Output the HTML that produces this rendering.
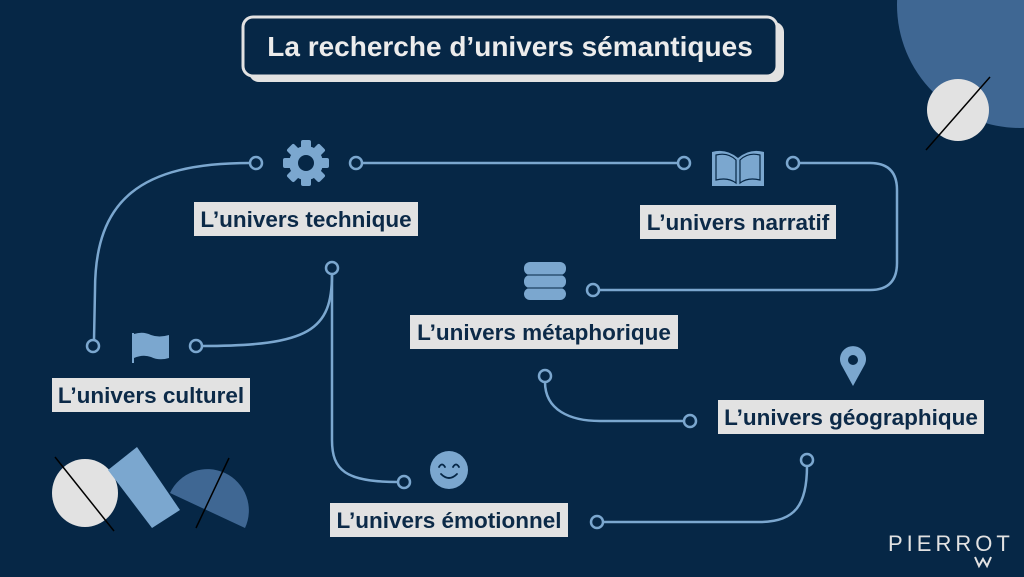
<!DOCTYPE html>
<html><head><meta charset="utf-8"><style>
html,body{margin:0;padding:0;background:#062746;}
svg{display:block}
text{font-family:"Liberation Sans",Arial,sans-serif;}
</style></head><body>
<svg width="1024" height="577" viewBox="0 0 1024 577" xmlns="http://www.w3.org/2000/svg">
<rect width="1024" height="577" fill="#062746"/>
<circle cx="1020" cy="5" r="123" fill="#3f6793"/>
<circle cx="958" cy="110" r="31" fill="#e2e2e2"/>
<line x1="990" y1="77" x2="926" y2="150" stroke="#000" stroke-width="1.5"/>
<rect x="249" y="22" width="535" height="60" rx="10" fill="#e2e2e2"/>
<rect x="243" y="17" width="534" height="59" rx="10" fill="#062746" stroke="#e2e2e2" stroke-width="3"/>
<text x="510" y="56" text-anchor="middle" fill="#ececec" font-size="28" font-weight="bold">La recherche d’univers sémantiques</text>
<g fill="none" stroke="#7ba7cf" stroke-width="2.5">
<path d="M250 163 C140 163 95 200 95 290 L94 340"/>
<line x1="362" y1="163" x2="678" y2="163"/>
<path d="M799 163 L870 163 Q897 163 897 190 L897 263 Q897 290 870 290 L599 290"/>
<path d="M332 274 C332 330 310 346 202 346"/>
<path d="M332 274 L332 440 C332 470 345 482 398 482"/>
<path d="M545 382 C545 410 570 421 600 421 L684 421"/>
<path d="M807 466 C807 505 795 522 760 522 L603 522"/>
</g>
<g fill="#062746" stroke="#7ba7cf" stroke-width="2.5">
<circle cx="256" cy="163" r="6"/><circle cx="356" cy="163" r="6"/>
<circle cx="684" cy="163" r="6"/><circle cx="793" cy="163" r="6"/>
<circle cx="593" cy="290" r="6"/><circle cx="332" cy="268" r="6"/>
<circle cx="93" cy="346" r="6"/><circle cx="196" cy="346" r="6"/>
<circle cx="545" cy="376" r="6"/><circle cx="690" cy="421" r="6"/>
<circle cx="807" cy="460" r="6"/><circle cx="404" cy="482" r="6"/>
<circle cx="597" cy="522" r="6"/>
</g>
<g fill="#7ba7cf">
<g transform="translate(306,163)">
<circle r="17"/>
<rect x="-5" y="-23" width="10" height="46" rx="2"/>
<rect x="-5" y="-23" width="10" height="46" rx="2" transform="rotate(45)"/>
<rect x="-5" y="-23" width="10" height="46" rx="2" transform="rotate(90)"/>
<rect x="-5" y="-23" width="10" height="46" rx="2" transform="rotate(135)"/>
<circle r="8" fill="#062746"/>
</g>
<path d="M712 152 Q726 148 738 158 Q750 148 764 152 L764 186 L712 186 Z"/>
<path d="M716 155 Q728 152 736 160 L736 183 Q728 177 716 180Z M760 155 Q748 152 740 160 L740 183 Q748 177 760 180Z" fill="none" stroke="#062746" stroke-width="1.2"/>
<rect x="524" y="262" width="42" height="13" rx="6"/>
<rect x="524" y="275" width="42" height="13" rx="6"/>
<rect x="524" y="288" width="42" height="12" rx="6"/>
<line x1="526" y1="275" x2="564" y2="275" stroke="#062746" stroke-width="1"/>
<line x1="526" y1="288" x2="564" y2="288" stroke="#062746" stroke-width="1"/>
<rect x="132" y="333" width="2" height="30"/>
<path d="M134 334 Q143 331 151 335 Q159 338 169 335 L169 358 Q159 361 151 357 Q143 354 134 358 Z"/>
<path d="M853 386 L842 366 A13 13 0 1 1 864 366 Z"/>
<circle cx="853" cy="360" r="5" fill="#062746"/>
<circle cx="449" cy="470" r="19"/>
</g>
<g fill="none" stroke="#062746" stroke-width="1.8" stroke-linecap="round">
<path d="M439 467 Q442 462 445 467"/><path d="M453 467 Q456 462 459 467"/>
<path d="M441 474 Q449 482 457 474"/>
</g>
<g fill="#e2e2e2">
<rect x="194" y="202" width="224" height="34"/>
<rect x="640" y="205" width="196" height="34"/>
<rect x="410" y="315" width="268" height="34"/>
<rect x="52" y="378" width="198" height="34"/>
<rect x="718" y="400" width="266" height="34"/>
<rect x="330" y="503" width="238" height="34"/>
</g>
<g fill="#0c2a48" font-size="22.5" font-weight="bold" text-anchor="middle">
<text x="306" y="227">L’univers technique</text>
<text x="738" y="230">L’univers narratif</text>
<text x="544" y="340">L’univers métaphorique</text>
<text x="151" y="403">L’univers culturel</text>
<text x="851" y="425">L’univers géographique</text>
<text x="449" y="528">L’univers émotionnel</text>
</g>
<ellipse cx="85" cy="493" rx="33" ry="34" fill="#e2e2e2"/>
<polygon points="108,470 137,447 180,510 152,528" fill="#7ba7cf"/>
<path d="M170 493 A41 41 0 0 1 245 528 Z" fill="#3f6793"/>
<line x1="55" y1="457" x2="114" y2="531" stroke="#000" stroke-width="1.5"/>
<line x1="229" y1="458" x2="196" y2="528" stroke="#000" stroke-width="1.5"/>
<text x="888" y="551" fill="#e2e2e2" font-size="22" letter-spacing="4">PIERROT</text>
<path d="M975 557 L979 566 L983 559 L987 566 L991 557" fill="none" stroke="#e2e2e2" stroke-width="2"/>
</svg>
</body></html>
